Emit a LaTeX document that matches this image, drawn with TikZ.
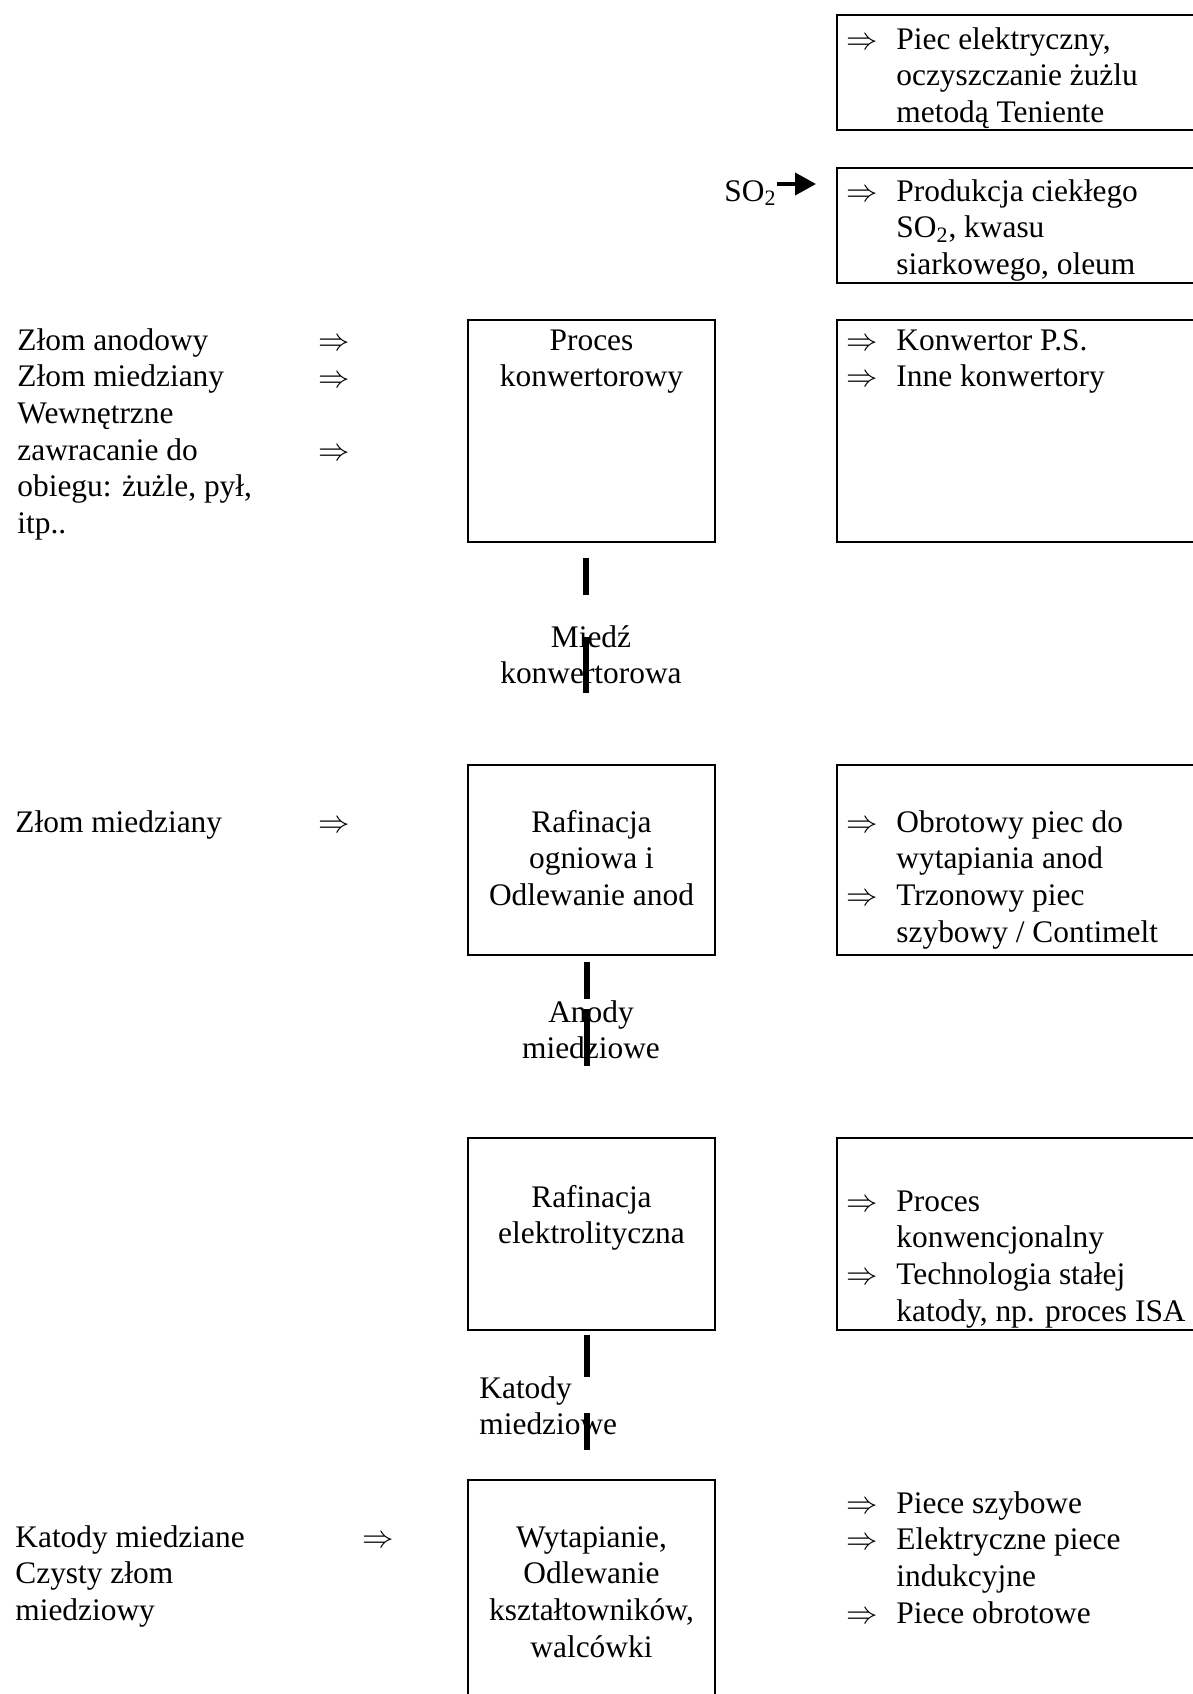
\RequirePackage{fix-cm}
\documentclass[tikz,border=0pt]{standalone}
\usepackage{fontspec}
\setmainfont{Liberation Serif}
\usetikzlibrary{arrows.meta}
% list marker and hanging indent for the technology lists
\newcommand{\itm}{\makebox[25pt][l]{$\Rightarrow$}}
\newcommand{\ind}{\hspace*{25pt}}
\begin{document}
\begin{tikzpicture}[x=0.5pt,y=-0.5pt,
  box/.style={draw, line width=1pt, rectangle, inner sep=0pt},
  colbox/.style={box, minimum width=123.5pt},
  sidebox/.style={box, minimum width=186.5pt},
  txt/.style={inner sep=0pt, font=\fontsize{15.7pt}{18.35pt}\selectfont, align=left, anchor=base west},
  ctxt/.style={txt, align=center, anchor=base},
  bar/.style={line width=3pt, line cap=butt},
  feed/.style={line width=2pt, -{Triangle[length=10.5pt,width=11pt]}}]
\useasboundingbox (0,0) rectangle (1193,1694);
\clip (0,0) rectangle (1193,1694);

% ---- boxes ----
\node[sidebox, minimum height=57.5pt] (b1) at (1023.5,72.5) {};
\node[sidebox, minimum height=57.5pt] (b2) at (1023.5,225.5) {};
\node[colbox, minimum height=111pt] (konw) at (591.5,431) {};
\node[sidebox, minimum height=111pt] (konwR) at (1023.5,431) {};
\node[colbox, minimum height=95pt] (rafo) at (591.5,860) {};
\node[sidebox, minimum height=95pt] (rafoR) at (1023.5,860) {};
\node[colbox, minimum height=96pt] (rafe) at (591.5,1234) {};
\node[sidebox, minimum height=96pt] (rafeR) at (1023.5,1234) {};
\node[colbox, minimum height=120pt] (wyt) at (591.5,1600) {};

% ---- top: slag cleaning and SO2 use (anchors sit on the last line) ----
\node[txt] (b1t) at (846,122.4) {\itm Piec elektryczny,\\\ind oczyszczanie żużlu\\\ind metodą Teniente};
\node[txt] (b2t) at (846,274.4) {\itm Produkcja ciekłego\\\ind SO\textsubscript{2}, kwasu\\\ind siarkowego, oleum};
\node[txt, anchor=base east] (so2) at (777,201) {SO\textsubscript{2}};
\coordinate (so2a) at ([yshift=8.5pt]so2.base east);
\draw[feed, shorten >=10pt] (so2a) -- (so2a -| b2.west);

% ---- converting ----
\node[txt] (in1) at (17,533.5) {Złom anodowy\\Złom miedziany\\Wewnętrzne\\zawracanie do\\obiegu: żużle, pył,\\itp..};
\node[txt] (in1a) at (318,350) {$\Rightarrow$};
\node[txt] (in1b) at (318,387) {$\Rightarrow$};
\node[txt] (in1c) at (318,460) {$\Rightarrow$};
\node[ctxt] (konwt) at (591.5,386.7) {Proces\\konwertorowy};
\node[txt] (konwRt) at (846,386.7) {\itm Konwertor P.S.\\\itm Inne konwertory};

\node[ctxt] (l1) at (591,683.7) {Miedź\\konwertorowa};

% ---- fire refining ----
\node[txt] (in2) at (15,832) {Złom miedziany};
\node[txt] (in2a) at (318,832) {$\Rightarrow$};
\node[ctxt] (rafot) at (591.5,905.4) {Rafinacja\\ogniowa i\\Odlewanie anod};
\node[txt] (rafoRt) at (846,942.1) {\itm Obrotowy piec do\\\ind wytapiania anod\\\itm Trzonowy piec\\\ind szybowy / Contimelt};

\node[ctxt] (l2) at (591,1058.7) {Anody\\miedziowe};

% ---- electrolytic refining ----
\node[ctxt] (rafet) at (591.5,1243.7) {Rafinacja\\elektrolityczna};
\node[txt] (rafeRt) at (846,1321.1) {\itm Proces\\\ind konwencjonalny\\\itm Technologia stałej\\\ind katody, np. proces ISA};

\node[txt] (l3) at (479,1434.7) {Katody\\miedziowe};

% ---- melting and casting ----
\node[txt] (in3) at (15,1620.4) {Katody miedziane\\Czysty złom\\miedziowy};
\node[txt] (in3a) at (362,1547) {$\Rightarrow$};
\node[ctxt] (wytt) at (591.5,1657.1) {Wytapianie,\\Odlewanie\\kształtowników,\\walcówki};
\node[txt] (wytR) at (846,1623.1) {\itm Piece szybowe\\\itm Elektryczne piece\\\ind indukcyjne\\\itm Piece obrotowe};

% ---- product flow bars ----
\coordinate (k1) at (585.7,558);  \coordinate (k2) at (585.7,595);
\coordinate (k3) at (585.7,637);  \coordinate (k4) at (585.7,693);
\coordinate (a1) at (586.7,962);  \coordinate (a2) at (586.7,999);
\coordinate (a3) at (586.7,1009); \coordinate (a4) at (586.7,1066);
\coordinate (t1) at (586.7,1335); \coordinate (t2) at (586.7,1377);
\coordinate (t3) at (586.7,1413); \coordinate (t4) at (586.7,1450);
\draw[bar] (k1) -- (k2);  \draw[bar] (k3) -- (k4);
\draw[bar] (a1) -- (a2);  \draw[bar] (a3) -- (a4);
\draw[bar] (t1) -- (t2);  \draw[bar] (t3) -- (t4);
\end{tikzpicture}
\end{document}
